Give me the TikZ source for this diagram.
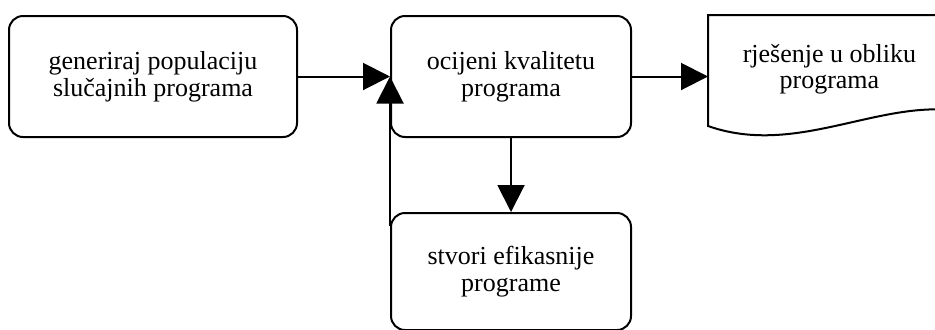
\documentclass[tikz,border=0pt]{standalone}
\usepackage{fontspec}
\setmainfont{Liberation Serif}
\usepackage{tikz}
\usetikzlibrary{
  arrows.meta,
  positioning,
  calc
}
\tikzset{
  gpnode/.style={
    draw, rounded corners=7pt, line width=1pt, align=center,
    font=\fontsize{13}{13.3}\selectfont, inner sep=2pt
  },
  gpstep/.style={gpnode, minimum width=120pt, minimum height=60.5pt},
  gpdoc/.style={align=center, font=\fontsize{13}{13.3}\selectfont,
    minimum width=121pt, minimum height=54pt, inner sep=2pt},
  flow/.style={-{Triangle[length=13.5pt, width=13.5pt]}, line width=1pt}
}

\begin{document}
\begin{tikzpicture}[x=0.5pt, y=0.5pt]
  \useasboundingbox (0,0) rectangle (935,329);
  \clip (0,0) rectangle (935,329);

  \node[gpstep, minimum width=144pt] (gen) at (153,252.5) {generiraj populaciju\\slučajnih programa};
  \node[gpstep, right=46pt of gen] (eval) {ocijeni kvalitetu\\programa};
  \node[gpstep, below=37pt of eval, minimum height=58.5pt] (better) {stvori efikasnije\\programe};
  \node[gpdoc, right=38pt of eval.north east, anchor=north west] (res) {rješenje u obliku\\programa};

  % document outline with the wavy lower edge
  \draw[line width=1pt] (res.north west) -- (res.north east)
    -- ($(res.north east)+(0,-95)$)
    .. controls ($(res.north west)+(165,-88)$) and ($(res.north west)+(85,-141)$)
    .. ($(res.north west)+(0,-111)$) -- cycle;

  \draw[flow] (gen) -- (eval);
  \draw[flow] (eval.east) -- (eval.east -| res.west);
  \draw[flow] (eval) -- (better);
  \draw[flow] ([yshift=-7pt]better.north west) -- (eval.west);
\end{tikzpicture}
\end{document}
